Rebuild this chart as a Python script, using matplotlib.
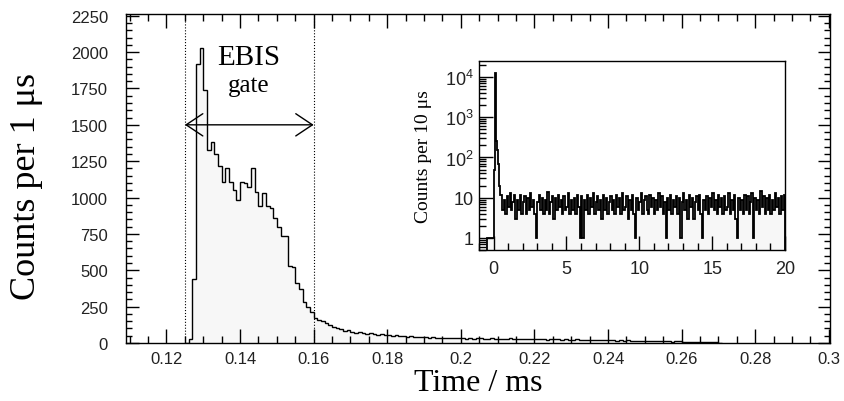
import numpy as np
import matplotlib
matplotlib.use("Agg")
import matplotlib.pyplot as plt
from matplotlib.ticker import (MultipleLocator, FixedLocator, FixedFormatter,
                               LogLocator, NullFormatter, FuncFormatter)

plt.rcParams['font.family'] = ['Liberation Sans', 'DejaVu Sans']
plt.rcParams['mathtext.fontset'] = 'custom'
plt.rcParams['mathtext.rm'] = 'Liberation Sans'
plt.rcParams['mathtext.it'] = 'Liberation Sans:italic'
SERIF = ['Liberation Serif', 'DejaVu Serif']

# main histogram: counts per 1 us bin, first bin starts at 0.125 ms
bin_width = 0.001
main_start = 0.125
gate_counts = [0, 25, 440, 1920, 2030, 1740, 1330, 1380, 1300, 1220,
               1110, 1200, 1110, 1050, 985, 1110, 1100, 1075, 1200, 1040,
               940, 1030, 940, 930, 860, 800, 735, 735, 530, 520,
               415, 370, 280, 250, 215]
tail_counts = [175, 160, 150, 135, 125, 110, 100, 95, 85, 88,
               78, 72, 75, 68, 64, 66, 60, 58, 61, 55,
               52, 50, 53, 48, 46, 44, 47, 42, 40, 43,
               38, 37, 40, 35, 36, 33, 35, 32, 34, 31,
               33, 30, 32, 29, 31, 33, 30, 28, 31, 29,
               30, 27, 29, 31, 28, 26, 29, 27, 28, 25,
               27, 29, 26, 24, 27, 25, 26, 23, 25, 24,
               22, 25, 23, 21, 24, 22, 20, 22, 19, 21,
               18, 20, 17, 19, 16, 18, 15, 17, 14, 16,
               13, 15, 12, 14, 11, 13, 12, 10, 12, 11,
               9, 10, 8, 9, 7, 8, 6, 7, 5, 4, 3]
gate_lo, gate_hi = 0.125, 0.160
arrow_level = 1500

# inset: counts per 10 us, coarse readout
inset_early_edges = [-0.43, 0.0, 0.12, 0.13, 0.14, 0.15, 0.16, 0.17, 0.18,
                     0.20, 0.25, 0.30, 0.35, 0.40, 0.45, 0.50]
inset_early_counts = [1, 50, 4400, 12600, 9700, 4300, 1300, 640, 420,
                      260, 150, 70, 35, 20, 12]
noise_start = 0.5
noise_step = 0.1
noise_counts = [12, 5, 9, 4, 11, 6, 13, 5, 8, 12, 3, 9, 5, 12, 4,
                8, 11, 4, 10, 5, 13, 6, 9, 4, 1, 8, 12, 5, 10, 4,
                9, 5, 14, 4, 8, 11, 3, 10, 5, 12, 6, 9, 4, 11, 5,
                6, 13, 4, 9, 5, 10, 4, 12, 6, 1, 11, 1, 9, 5, 12,
                4, 10, 6, 13, 4, 8, 11, 5, 9, 3, 12, 5, 10, 4, 8,
                11, 5, 9, 4, 12, 6, 10, 4, 13, 5, 6, 11, 3, 9, 5,
                12, 4, 1, 10, 5, 8, 13, 4, 9, 11, 5, 4, 12, 6, 10,
                4, 9, 5, 13, 6, 11, 4, 8, 1, 10, 5, 12, 4, 9, 6,
                11, 4, 10, 1, 8, 13, 5, 9, 3, 12, 6, 10, 3, 8, 11,
                5, 12, 4, 1, 9, 5, 11, 4, 10, 6, 13, 5, 9, 4, 12,
                6, 10, 4, 11, 5, 6, 13, 4, 9, 5, 12, 3, 1, 10, 5,
                9, 4, 12, 5, 11, 4, 8, 13, 1, 10, 5, 9, 4, 15, 6,
                11, 4, 10, 5, 12, 4, 9, 5, 13, 6, 10, 4, 11, 5, 12]

FILL = '#f7f7f7'

fig = plt.figure(figsize=(8.44, 4.02), dpi=100)
ax = fig.add_axes([0.1493, 0.1443, 0.8341, 0.8184])

counts = np.array(gate_counts + tail_counts, dtype=float)
edges = main_start + bin_width * np.arange(len(counts) + 1)
ax.stairs(counts, edges, fill=True, color=FILL)
ax.stairs(counts, edges, color='black', lw=1.0)

ax.axvline(gate_lo, ls=':', color='black', lw=0.8)
ax.axvline(gate_hi, ls=':', color='black', lw=0.8)
ax.annotate('', xy=(gate_lo, arrow_level), xytext=(gate_hi, arrow_level),
            arrowprops=dict(arrowstyle='<->,head_length=0.6,head_width=0.4',
                            color='black', lw=1.0, shrinkA=0, shrinkB=0,
                            mutation_scale=20))
xc = (gate_lo + gate_hi) / 2 - 0.0002
ax.text(xc, 1963, 'EBIS', family=SERIF, fontsize=21, ha='center', va='center')
ax.text(xc, 1771, 'gate', family=SERIF, fontsize=18, ha='center', va='center')

ax.set_xlim(0.109, 0.3003)
ax.set_ylim(0, 2262)
ax.xaxis.set_major_locator(MultipleLocator(0.02))
ax.xaxis.set_minor_locator(MultipleLocator(0.005))
ax.xaxis.set_major_formatter(FuncFormatter(lambda v, p: f'{v:g}'))
ax.yaxis.set_major_locator(MultipleLocator(250))
ax.yaxis.set_minor_locator(MultipleLocator(50))
ax.tick_params(which='both', direction='in', top=True, right=True, width=1.0)
ax.tick_params(axis='x', which='major', length=10, pad=6, labelsize=12,
               labelcolor='#222222')
ax.tick_params(axis='x', which='minor', length=5)
ax.tick_params(axis='y', which='major', length=9, pad=13, labelsize=12,
               labelcolor='#222222')
ax.tick_params(axis='y', which='minor', length=4.5)
for s in ax.spines.values():
    s.set_linewidth(1.0)

ax.set_xlabel('Time / ms', family=SERIF, fontsize=23)
ax.xaxis.set_label_coords(0.5, -0.075)
ax.set_ylabel('Counts per 1 μs', family=SERIF, fontsize=26)
ax.yaxis.set_label_coords(-0.118, 0.48)

# inset
axin = fig.add_axes([0.5675, 0.3756, 0.3626, 0.4701])
axin.set_yscale('log')
noise_edges = noise_start + noise_step * np.arange(len(noise_counts) + 1)
in_edges = np.concatenate([inset_early_edges, noise_edges[1:]])
in_counts = np.array(inset_early_counts + noise_counts, dtype=float)
axin.stairs(in_counts, in_edges, fill=True, color=FILL, baseline=0.5)
axin.stairs(in_counts, in_edges, color='black', lw=1.3, baseline=0.5)

axin.set_xlim(-1, 20)
axin.set_ylim(0.5, 2.5e4)
axin.xaxis.set_major_locator(MultipleLocator(5))
axin.xaxis.set_minor_locator(MultipleLocator(1))
axin.yaxis.set_major_locator(FixedLocator([1, 10, 100, 1000, 10000]))
axin.yaxis.set_major_formatter(FixedFormatter(['1', '10', '$10^{2}$', '$10^{3}$', '$10^{4}$']))
axin.yaxis.set_minor_locator(LogLocator(base=10, subs=np.arange(2, 10)))
axin.yaxis.set_minor_formatter(NullFormatter())
axin.tick_params(which='both', direction='in', top=False, right=False, width=1.0)
axin.tick_params(axis='x', which='major', length=10, pad=7, labelsize=13,
                 labelcolor='#222222')
axin.tick_params(axis='x', which='minor', length=5)
axin.tick_params(axis='y', which='major', length=10, pad=4, labelsize=13,
                 labelcolor='#222222')
axin.tick_params(axis='y', which='minor', length=5)
for s in axin.spines.values():
    s.set_linewidth(1.0)
axin.set_ylabel('Counts per 10 μs', family=SERIF, fontsize=14)
axin.yaxis.set_label_coords(-0.155, 0.5)

fig.savefig('out.png', dpi=100)
